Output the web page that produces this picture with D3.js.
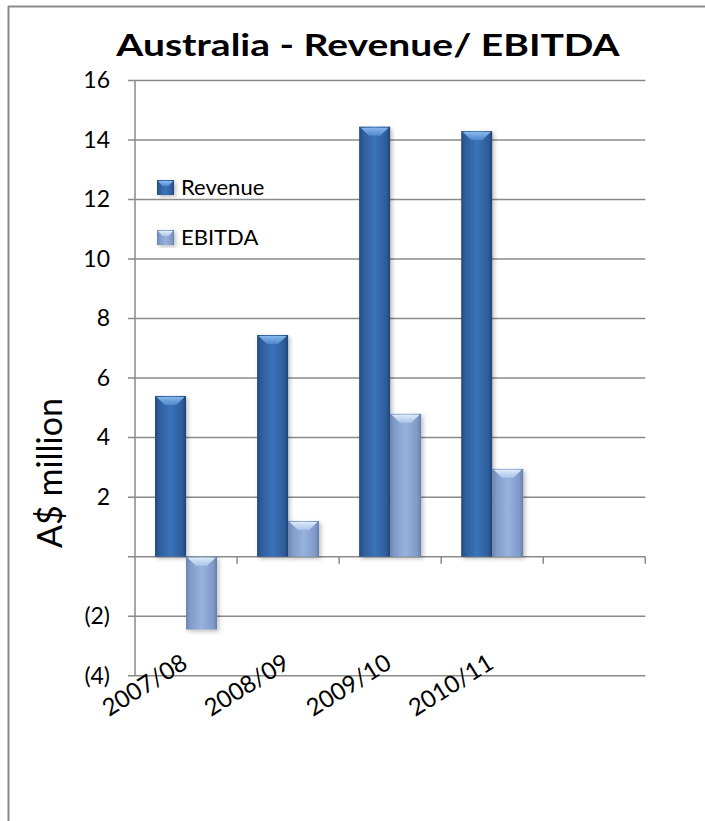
<!DOCTYPE html>
<html>
<head>
<meta charset="utf-8">
<script src="https://cdn.jsdelivr.net/npm/d3@7"></script>
<style>
  html, body { margin: 0; padding: 0; background: #fff; }
  svg { display: block; }
  text { font-family: Lato, "Open Sans", sans-serif; fill: #000; }
</style>
</head>
<body>
<script>
// ---- data ----
const categories = ["2007/08", "2008/09", "2009/10", "2010/11", ""];
const seriesNames = ["Revenue", "EBITDA"];
const revenue = [5.4, 7.45, 14.45, 14.3];
const ebitda = [-2.45, 1.2, 4.8, 2.95];
const yTicks = [-4, -2, 0, 2, 4, 6, 8, 10, 12, 14, 16];
const chartTitle = "Australia - Revenue/ EBITDA";
const yTitle = "A$ million";

(function () {
const W = 705, H = 821;
const svg = d3.select("body").append("svg").attr("width", W).attr("height", H);
const defs = svg.append("defs");

function hGrad(id, stops) {
  const g = defs.append("linearGradient").attr("id", id)
    .attr("x1", "0%").attr("x2", "100%").attr("y1", "0%").attr("y2", "0%");
  stops.forEach(s => g.append("stop").attr("offset", s[0]).attr("stop-color", s[1]));
}
function vGrad(id, stops) {
  const g = defs.append("linearGradient").attr("id", id)
    .attr("x1", "0%").attr("x2", "0%").attr("y1", "0%").attr("y2", "100%");
  stops.forEach(s => g.append("stop").attr("offset", s[0]).attr("stop-color", s[1]));
}
hGrad("gRev", [["0%", "#23487a"], ["12%", "#2d5c9a"], ["50%", "#3b73b9"], ["88%", "#2d5c9a"], ["100%", "#1f4270"]]);
hGrad("gEbi", [["0%", "#6a82ad"], ["12%", "#7f9ac8"], ["50%", "#97b2dc"], ["88%", "#7f9ac8"], ["100%", "#657ca6"]]);
vGrad("cRev", [["0%", "#8cbcf0"], ["100%", "#5089cd"]]);
vGrad("cEbi", [["0%", "#e2eefc"], ["100%", "#abc5ea"]]);
const f = defs.append("filter").attr("id", "shadow").attr("x", "-20%").attr("y", "-10%").attr("width", "150%").attr("height", "130%");
f.append("feDropShadow").attr("dx", 2).attr("dy", 2).attr("stdDeviation", 2)
  .attr("flood-color", "#000").attr("flood-opacity", 0.25);

const fills = { Revenue: ["url(#gRev)", "url(#cRev)"], EBITDA: ["url(#gEbi)", "url(#cEbi)"] };

// ---- frame ----
svg.append("line").attr("x1", 8).attr("x2", W).attr("y1", 6.5).attr("y2", 6.5)
  .attr("stroke", "#8a8a8a").attr("stroke-width", 2);
svg.append("line").attr("x1", 8.5).attr("x2", 8.5).attr("y1", 6).attr("y2", H)
  .attr("stroke", "#8a8a8a").attr("stroke-width", 2);

// ---- scales ----
const pL = 135, pR = 645.3, pT = 80.5, pB = 675.7;
const y = d3.scaleLinear().domain([-4, 16]).range([pB, pT]);
const x0 = d3.scaleBand().domain(categories).range([pL, pR]).padding(0);
const bw = x0.bandwidth();
const x1 = d3.scaleBand().domain(seriesNames).range([bw / 2 - 31, bw / 2 + 31]).padding(0);

// ---- gridlines ----
svg.append("g").selectAll("line").data(yTicks).join("line")
  .attr("x1", pL - 7).attr("x2", pR)
  .attr("y1", d => y(d)).attr("y2", d => y(d))
  .attr("stroke", "#8a8a8a").attr("stroke-width", 1.5);

// y axis line
svg.append("line").attr("x1", pL).attr("x2", pL).attr("y1", pT).attr("y2", pB)
  .attr("stroke", "#8a8a8a").attr("stroke-width", 1.5);

// x tick marks at category boundaries along zero line
const bounds = categories.map(c => x0(c) + bw);
svg.append("g").selectAll("line").data(bounds).join("line")
  .attr("x1", d => d).attr("x2", d => d)
  .attr("y1", y(0)).attr("y2", y(0) + 7)
  .attr("stroke", "#8a8a8a").attr("stroke-width", 1.5);

// y tick labels
const fmt = d => d === 0 ? "" : (d < 0 ? "(" + Math.abs(d) + ")" : String(d));
svg.append("g").selectAll("text").data(yTicks).join("text")
  .attr("x", 110).attr("y", d => y(d) + 2)
  .attr("text-anchor", "end").attr("dominant-baseline", "middle")
  .style("font-size", "23px")
  .text(fmt);

// ---- bars ----
const rows = categories.slice(0, 4).map((c, i) => ({ cat: c, vals: [
  { s: "Revenue", v: revenue[i] }, { s: "EBITDA", v: ebitda[i] }] }));

const groups = svg.append("g").selectAll("g").data(rows).join("g")
  .attr("transform", d => `translate(${x0(d.cat)},0)`);

groups.selectAll("g.bar").data(d => d.vals).join("g").attr("class", "bar")
  .each(function (d) {
    const g = d3.select(this);
    const bx = x1(d.s), w = x1.bandwidth();
    const yt = y(Math.max(0, d.v)), yb = y(Math.min(0, d.v));
    g.append("rect").attr("x", bx).attr("y", yt).attr("width", w).attr("height", yb - yt)
      .attr("fill", fills[d.s][0]).attr("filter", "url(#shadow)");
    const capH = Math.min(9, (yb - yt) * 0.4);
    g.append("path")
      .attr("d", `M${bx + 1.5},${yt + 1} L${bx + w - 1.5},${yt + 1} L${bx + w * 0.68},${yt + capH} L${bx + w * 0.32},${yt + capH} Z`)
      .attr("fill", fills[d.s][1]).attr("opacity", 0.95);
  });

// ---- x labels ----
svg.append("g").selectAll("text").data(categories.filter(c => c !== "")).join("text")
  .attr("transform", c => `translate(${x0(c) + bw / 2 + 3},${667}) rotate(-32)`)
  .attr("text-anchor", "end")
  .style("font-size", "24px")
  .text(c => c);

// ---- legend ----
const leg = svg.append("g").selectAll("g").data(seriesNames).join("g")
  .attr("transform", (d, i) => `translate(157,${180 + i * 50})`);
leg.append("rect").attr("width", 17).attr("height", 15).attr("fill", d => fills[d][0])
  .attr("filter", "url(#shadow)");
leg.append("path").attr("d", "M1,1 L16,1 L11.5,6 L5.5,6 Z").attr("fill", d => fills[d][1]);
leg.append("text").attr("x", 24).attr("y", 15).style("font-size", "22px").text(d => d);

// ---- titles ----
svg.append("text").attr("transform", "translate(368,56) scale(1.3,1)").attr("text-anchor", "middle")
  .style("font-size", "30px").style("font-weight", "bold").text(chartTitle);
svg.append("text").attr("transform", "translate(62,473) rotate(-90)")
  .attr("text-anchor", "middle").style("font-size", "34px").text(yTitle);
})();
</script>
</body>
</html>
